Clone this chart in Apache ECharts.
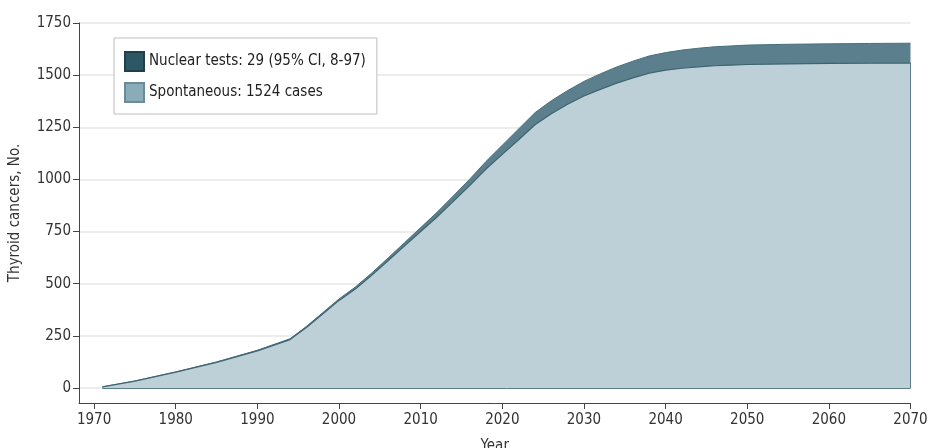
<!DOCTYPE html>
<html>
<head>
<meta charset="utf-8">
<script src="https://cdn.jsdelivr.net/npm/echarts@6/dist/echarts.min.js"></script>
<style>
html,body{margin:0;padding:0;background:#fff;}
#chart{width:928px;height:448px;}
</style>
</head>
<body>
<div id="chart"></div>
<script>
const years = [1971,1975,1980,1985,1990,1994,1996,1998,2000,2002,2004,2006,2008,2010,2012,2014,2016,2018,2020,2022,2024,2026,2028,2030,2032,2034,2036,2038,2040,2042,2044,2046,2048,2050,2055,2060,2065,2070];
const spontaneous = [5,33,76,123,178,232,290,355,420,475,540,610,680,750,820,895,970,1050,1120,1190,1262,1315,1360,1400,1432,1462,1487,1510,1524,1533,1540,1545,1548,1551,1554,1556,1557,1558];
const nuclear = [0,0.5,1,2,3,4,5,6,7,9,11,13,16,19,22,26,31,36,44,52,58,62,66,70,74,77,80,82,84,87,89,91,92,93,94,94,95,95];
const xTicks = [1970,1980,1990,2000,2010,2020,2030,2040,2050,2060,2070];
const yTicks = [0,250,500,750,1000,1250,1500,1750];
const seriesNames = ['Nuclear tests: 29 (95% CI, 8-97)', 'Spontaneous: 1524 cases'];

const FONT = "'Liberation Sans Narrow', 'DejaVu Sans Condensed', 'Noto Sans', sans-serif";
const chart = echarts.init(document.getElementById('chart'), null, {renderer: 'canvas'});
const last = years.length - 1;
// cumulative top of the nuclear band (spontaneous + nuclear)
const totalPairs = years.map((y, i) => [y, spontaneous[i] + nuclear[i]]);
const spontPairs = years.map((y, i) => [y, spontaneous[i]]);
chart.setOption({
  animation: false,
  backgroundColor: '#fff',
  textStyle: {fontFamily: FONT},
  grid: {left: 79, right: 17.5, top: 23, bottom: 45, outerBoundsMode: 'none', containLabel: false},
  legend: {
    orient: 'vertical',
    left: 114, top: 38,
    data: [seriesNames[0], seriesNames[1]],
    itemWidth: 19, itemHeight: 19, itemGap: 10,
    padding: [13, 11, 11, 10],
    backgroundColor: '#fff',
    borderColor: '#bdbdbd', borderWidth: 1,
    textStyle: {fontFamily: FONT, fontSize: 15, color: '#222'},
    icon: 'rect'
  },
  xAxis: {
    type: 'value', min: 1968.15, max: 2070,
    name: 'Year', nameLocation: 'middle', nameGap: 36,
    nameTextStyle: {fontFamily: FONT, fontSize: 15, color: '#333'},
    axisLine: {show: true, onZero: false, lineStyle: {color: '#444', width: 1}},
    axisTick: {show: true, length: 6, lineStyle: {color: '#444'}, customValues: xTicks},
    axisLabel: {fontFamily: FONT, fontSize: 15, color: '#333', margin: 10, customValues: xTicks,
      formatter: v => String(v)},
    splitLine: {show: false}
  },
  yAxis: {
    type: 'value', min: -72, max: 1750,
    name: 'Thyroid cancers, No.', nameLocation: 'middle', nameGap: 56,
    nameTextStyle: {fontFamily: FONT, fontSize: 15, color: '#333'},
    axisLine: {show: true, onZero: false, lineStyle: {color: '#444', width: 1}},
    axisTick: {show: true, length: 6, lineStyle: {color: '#444'}, customValues: yTicks},
    axisLabel: {fontFamily: FONT, fontSize: 15, color: '#333', margin: 8, customValues: yTicks,
      formatter: v => String(v)},
    splitLine: {show: true, lineStyle: {color: '#e6e6e6', width: 1.5}}
  },
  series: [
    {
      name: seriesNames[0], type: 'line',
      data: totalPairs,
      showSymbol: false, symbol: 'none',
      itemStyle: {color: '#2e5766', borderColor: '#203f4a', borderWidth: 1},
      lineStyle: {color: '#4a6f7c', width: 1},
      areaStyle: {color: '#5b7f8c', opacity: 1},
      z: 2
    },
    {
      name: seriesNames[1], type: 'line',
      data: spontPairs,
      showSymbol: false, symbol: 'none',
      itemStyle: {color: '#8aacb8', borderColor: '#6d8b96', borderWidth: 1},
      lineStyle: {color: '#3e6471', width: 1.2},
      areaStyle: {color: '#bdd0d8', opacity: 1},
      z: 3,
      markLine: {
        silent: true, symbol: 'none', label: {show: false},
        lineStyle: {color: '#5d7d89', width: 1, type: 'solid'},
        data: [
          [{coord: [years[0], 0]}, {coord: [years[last], 0]}],
          [{coord: [years[last], 0]}, {coord: [years[last], spontaneous[last]]}]
        ]
      }
    }
  ]
});
</script>
</body>
</html>
